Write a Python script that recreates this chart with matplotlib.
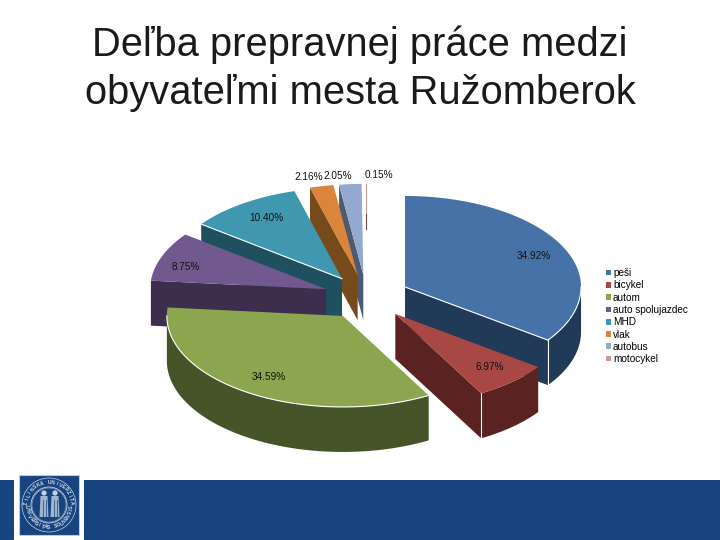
import matplotlib.pyplot as plt
from matplotlib.patches import Circle, Patch, Rectangle
import numpy as np

# chart values
names = ['peši', 'bicykel', 'autom', 'auto spolujazdec', 'MHD', 'vlak', 'autobus', 'motocykel']
shares = [34.92, 6.97, 34.59, 8.75, 10.40, 2.16, 2.05, 0.15]
top_colors = ['#4672A8', '#A84744', '#8BA64E', '#71588F', '#3F98B0', '#DB843C', '#93A9CF', '#C99A98']
wall_colors = ['#203A58', '#5A2220', '#46542A', '#3C2E4C', '#1F5060', '#774A1C', '#4D5A70', '#6B4745']
label_xy = [(534, 256), (490, 367), (269, 377), (186, 267), (266, 218), (309, 177), (338, 176), (379, 175)]

# pie geometry in pixels
cx, cy = 366.5, 297.2
rx, ry = 176, 91
depth = 45
explode = 0.246

plt.rcParams['font.family'] = ['Liberation Sans', 'DejaVu Sans']

fig = plt.figure(figsize=(7.2, 5.4), dpi=100)
ax = fig.add_axes([0, 0, 1, 1])
ax.set_xlim(0, 720)
ax.set_ylim(540, 0)
ax.axis('off')


def rim(theta, ox, oy):
    # theta in degrees, clockwise from 12 o'clock
    t = np.radians(theta)
    return ox + rx * np.sin(t), oy - ry * np.cos(t)


def draw_wall(xs, ys, color):
    xs = np.asarray(xs)
    ys = np.asarray(ys)
    ax.fill(np.r_[xs, xs[::-1]], np.r_[ys, ys[::-1] + depth], color=color, lw=0)


edges = np.r_[0, np.cumsum(shares)] / sum(shares) * 360
order = [7, 6, 5, 4, 3, 0, 1, 2]  # back to front

for i in order:
    start, end = edges[i], edges[i + 1]
    mid = np.radians((start + end) / 2)
    ox = cx + explode * rx * np.sin(mid)
    oy = cy - explode * ry * np.cos(mid)
    arc = np.linspace(start, end, 120)
    ax_, ay_ = rim(arc, ox, oy)

    # radial walls that face the viewer
    t0, t1 = np.radians(start), np.radians(end)
    if shares[i] < 1:
        # too thin for a wall, only a short dark tick shows under the rim
        ex, ey = rim(end, ox, oy)
        ax.plot([ex - 0.5, ex - 0.5], [ey + 29, ey + depth], color=wall_colors[i], lw=0.8)
        ax.plot([ex - 0.5, ex - 0.5], [ey, ey + 29], color=top_colors[i], lw=0.8)
        continue
    if -np.sin(t0) > 0:
        sx, sy = rim(start, ox, oy)
        draw_wall([ox, sx], [oy, sy], wall_colors[i])
    if np.sin(t1) > 0:
        ex, ey = rim(end, ox, oy)
        draw_wall([ox, ex], [oy, ey], wall_colors[i])

    # outer wall, front half only
    lo, hi = max(start, 90), min(end, 270)
    if hi > lo:
        fx, fy = rim(np.linspace(lo, hi, 120), ox, oy)
        draw_wall(fx, fy, wall_colors[i])

    ax.fill(np.r_[ox, ax_], np.r_[oy, ay_], color=top_colors[i], lw=0)

    # white seams along the front of the top
    if i in (0, 2):
        fx, fy = rim(np.linspace(lo, hi, 120), ox, oy)
        ax.plot(fx, fy, color='white', lw=0.8)
    if i in (0, 4):
        ex, ey = rim(end if i == 0 else start, ox, oy)
        ax.plot([ox, ex], [oy, ey], color='white', lw=0.8)
    if i in (0, 1):
        ex, ey = rim(end, ox, oy)
        ax.plot([ex, ex], [ey, ey + depth], color='white', lw=0.8)

# percent labels
for value, (tx, ty) in zip(shares, label_xy):
    ax.text(tx, ty, f'{value:.2f}%', fontsize=7.2, color='#111111', ha='center', va='center')

# title
ax.text(360, 45, 'Deľba prepravnej práce medzi', fontsize=28.7, color='#1A1A1A', ha='center', va='center')
ax.text(360, 93, 'obyvateľmi mesta Ružomberok', fontsize=28.7, color='#1A1A1A', ha='center', va='center')

# legend
handles = [Patch(facecolor=c, edgecolor='none') for c in top_colors]
ax.legend(handles, names, loc='upper left', bbox_to_anchor=(603 / 720, 1 - 265 / 540),
          frameon=False, fontsize=7.2, handlelength=0.5, handleheight=0.5,
          handletextpad=0.2, labelspacing=0.23, borderpad=0.3, borderaxespad=0)

# footer band and university seal
band = '#17437F'
ax.add_patch(Rectangle((0, 480), 14, 60, color=band, lw=0))
ax.add_patch(Rectangle((84, 480), 636, 60, color=band, lw=0))
ax.add_patch(Rectangle((19, 475), 60, 60, facecolor=band, edgecolor='#B9CBE0', lw=0.8))
sx0, sy0 = 49, 505
for r, w in [(27, 0.5), (18, 0.6), (17, 0.3)]:
    ax.add_patch(Circle((sx0, sy0), r, fill=False, edgecolor='#C9D6E6', lw=w))


def ring_text(text, first, last, radius, flip):
    for ch, deg in zip(text, np.linspace(first, last, len(text))):
        t = np.radians(deg)
        ax.text(sx0 + radius * np.sin(t), sy0 - radius * np.cos(t), ch, fontsize=3.6, color='#D5DFEC',
                ha='center', va='center', rotation=-deg + (180 if flip else 0), fontweight='bold')


ring_text('ŽILINSKÁ UNIVERZITA', -85, 85, 22.5, False)
ring_text('UNIVERSITAS SOLNENSIS', 265, 95, 22.5, True)

# two figures inside the seal
for fx0 in (44, 55):
    ax.add_patch(Circle((fx0, 493), 2.6, color='#C4D2E3', lw=0))
    ax.fill([fx0 - 3.5, fx0 + 3.5, fx0 + 4.5, fx0 - 4.5], [496, 496, 517, 517], color='#9FB4CF', lw=0)
    ax.plot([fx0 - 1.5, fx0 - 1.5], [500, 517], color=band, lw=0.5)
    ax.plot([fx0 + 1.5, fx0 + 1.5], [500, 517], color=band, lw=0.5)

fig.savefig('out.png', dpi=100)
